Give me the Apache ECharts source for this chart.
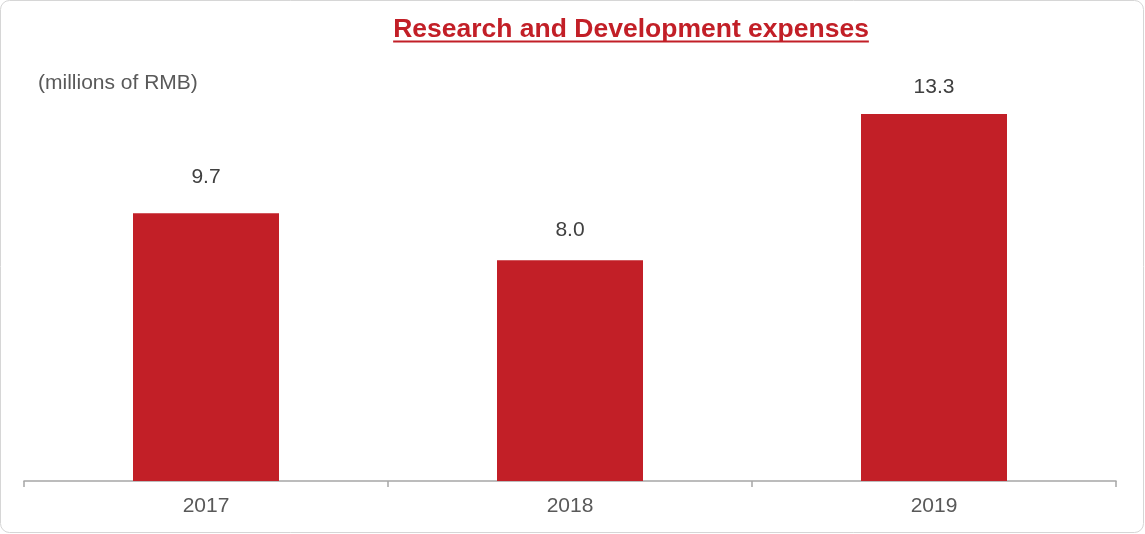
<!DOCTYPE html>
<html>
<head>
<meta charset="utf-8">
<title>Research and Development expenses</title>
<script src="https://cdn.jsdelivr.net/npm/echarts@6/dist/echarts.min.js"></script>
<style>
  html, body { margin: 0; padding: 0; background: #ffffff; }
  #chart { width: 1145px; height: 534px; }
</style>
</head>
<body>
<div id="chart"></div>
<script>
// R&D expenses by year, millions of RMB
const years = ['2017', '2018', '2019'];
const expenses = [9.7, 8.0, 13.3];

const titleText = 'Research and Development expenses';
const unitText = '(millions of RMB)';

// gap between each value label and its bar (px)
const labelGap = [26, 19, 16];

const FONT = '"Liberation Sans", Arial, Helvetica, sans-serif';
const RED = '#c21f27';

// width of the title, used for its underline
function textWidth(text, font) {
  const ctx = document.createElement('canvas').getContext('2d');
  ctx.font = font;
  return ctx.measureText(text).width;
}
const titleCenterX = 631;
const titleSize = 26.5;
const titleW = textWidth(titleText, 'bold ' + titleSize + 'px ' + FONT);

const chart = echarts.init(document.getElementById('chart'), null, { renderer: 'canvas' });

chart.setOption({
  animation: false,
  backgroundColor: '#ffffff',
  title: {
    text: titleText,
    left: titleCenterX,
    textAlign: 'center',
    top: 17,
    padding: 0,
    textStyle: {
      fontFamily: FONT,
      fontSize: titleSize,
      fontWeight: 'bold',
      color: RED,
      lineHeight: 26
    }
  },
  graphic: [
    {
      type: 'rect',
      silent: true,
      shape: { x: 0.5, y: 0.5, width: 1143, height: 532, r: 9 },
      style: { fill: 'none', stroke: '#d6d6d6', lineWidth: 1 },
      z: -1
    },
    {
      type: 'line',
      silent: true,
      shape: {
        x1: titleCenterX - titleW / 2, y1: 41.5,
        x2: titleCenterX + titleW / 2, y2: 41.5
      },
      style: { stroke: RED, lineWidth: 2 }
    },
    {
      type: 'text',
      silent: true,
      left: 38,
      top: 73,
      style: {
        text: unitText,
        font: '21px ' + FONT,
        fill: '#595959'
      }
    }
  ],
  grid: {
    left: 24,
    right: 29,
    top: 67,
    bottom: 53,
    containLabel: false
  },
  xAxis: {
    type: 'category',
    data: years,
    boundaryGap: true,
    axisLine: { show: true, lineStyle: { color: '#a6a6a6', width: 1.5 } },
    axisTick: { show: true, length: 6, lineStyle: { color: '#a6a6a6', width: 1.5 } },
    axisLabel: {
      margin: 15,
      fontFamily: FONT,
      fontSize: 21,
      color: '#595959'
    },
    splitLine: { show: false }
  },
  yAxis: {
    type: 'value',
    min: 0,
    max: 15,
    show: false,
    splitLine: { show: false }
  },
  series: [
    {
      type: 'bar',
      data: expenses.map((v, i) => ({ value: v, label: { distance: labelGap[i] } })),
      barWidth: 146,
      itemStyle: { color: RED },
      label: {
        show: true,
        position: 'top',
        fontFamily: FONT,
        fontSize: 21,
        color: '#404040',
        formatter: p => p.value.toFixed(1)
      }
    }
  ]
});
</script>
</body>
</html>
